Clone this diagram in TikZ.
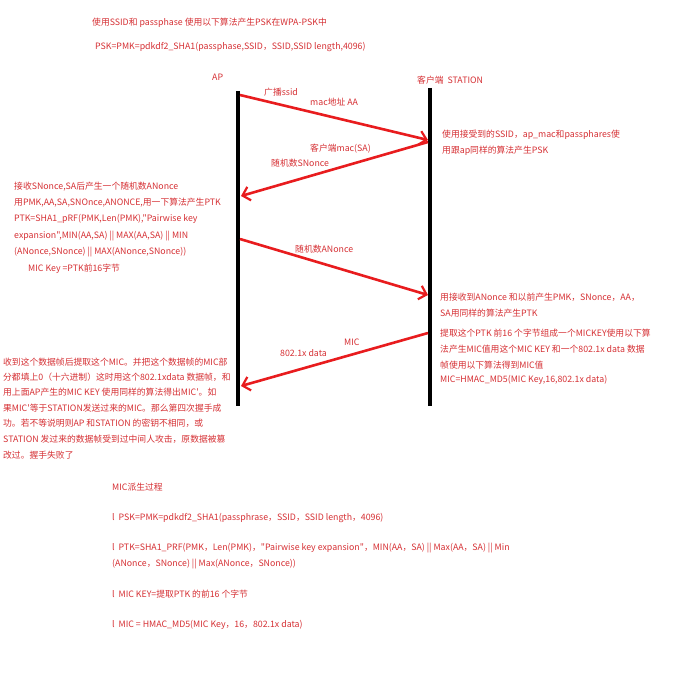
\documentclass[tikz,border=0pt]{standalone}
\usepackage{fontspec}
\newfontfamily\cjk{Noto Sans CJK SC}
\usetikzlibrary{arrows.meta}
\definecolor{txtred}{RGB}{214,48,52}
\definecolor{arrred}{RGB}{232,28,30}
\begin{document}
\begin{tikzpicture}[x=1pt,y=-1pt,
  txt/.style={text=txtred, font=\cjk\fontsize{8.8}{11}\selectfont, anchor=west, inner sep=0pt},
  life/.style={line width=4pt, black},
  msg/.style={arrred, line width=2.6pt, -{Straight Barb[length=7pt,width=14pt,line width=2.2pt]}}]
\useasboundingbox[fill=white] (0,0) rectangle (680,698);
% header
\node[txt] (h1) at (92,23) {使用SSID和 passphase 使用以下算法产生PSK在WPA-PSK中};
\node[txt] (h2) at (95,47) {PSK=PMK=pdkdf2\_SHA1(passphase,SSID，SSID,SSID length,4096)};
% actors
\node[txt] (ap) at (212,77) {AP};
\node[txt] (st) at (417,80) {客户端\ \ STATION};
% lifelines
\coordinate (apT) at (238,91);
\coordinate (apB) at (238,406);
\coordinate (stT) at (430,88);
\coordinate (stB) at (430,406);
\draw[life] (apT) -- (apB);
\draw[life] (stT) -- (stB);
% message points
\coordinate (m1s) at (240,95);
\coordinate (m1e) at (428,140);
\coordinate (m2s) at (428,142);
\coordinate (m2e) at (241,196);
\coordinate (m3s) at (240,239);
\coordinate (m3e) at (428,295);
\coordinate (m4s) at (428,333);
\coordinate (m4e) at (241,386);
\draw[msg] (m1s) -- (m1e);
\draw[msg] (m2s) -- (m2e);
\draw[msg] (m3s) -- (m3e);
\draw[msg] (m4s) -- (m4e);
% message labels
\node[txt] (l1a) at (264,92) {广播ssid};
\node[txt] (l1b) at (310,102) {mac地址 AA};
\node[txt] (l2a) at (310,149) {客户端mac(SA)};
\node[txt] (l2b) at (271,163) {随机数SNonce};
\node[txt] (l3a) at (295,249) {随机数ANonce};
\node[txt] (l4a) at (344,342) {MIC};
\node[txt] (l4b) at (280,353) {802.1x data};
% station notes
\node[txt] (s1) at (442,135) {使用接受到的SSID，ap\_mac和passphares使};
\node[txt] (s2) at (442,151) {用跟ap同样的算法产生PSK};
\node[txt] (s3) at (440,297) {用接收到ANonce 和以前产生PMK，SNonce，AA，};
\node[txt] (s4) at (440,313) {SA用同样的算法产生PTK};
\node[txt] (s5) at (440,333) {提取这个PTK 前16 个字节组成一个MICKEY使用以下算};
\node[txt] (s6) at (440,349) {法产生MIC值用这个MIC KEY 和一个802.1x data 数据};
\node[txt] (s7) at (440,365) {帧使用以下算法得到MIC值};
\node[txt] (s8) at (440,380) {MIC=HMAC\_MD5(MIC Key,16,802.1x data)};
% AP notes 1
\node[txt] (a1) at (14,187) {接收SNonce,SA后产生一个随机数ANonce};
\node[txt] (a2) at (14,203) {用PMK,AA,SA,SNOnce,ANONCE,用一下算法产生PTK};
\node[txt] (a3) at (14,219) {PTK=SHA1\_pRF(PMK,Len(PMK),"Pairwise key};
\node[txt] (a4) at (14,236) {expansion",MIN(AA,SA) || MAX(AA,SA) || MIN};
\node[txt] (a5) at (14,252) {(ANonce,SNonce) || MAX(ANonce,SNonce))};
\node[txt] (a6) at (28,269) {MIC Key =PTK前16字节};
% AP notes 2
\node[txt] (b1) at (3,362) {收到这个数据帧后提取这个MIC。并把这个数据帧的MIC部};
\node[txt] (b2) at (3,377) {分都填上0（十六进制）这时用这个802.1xdata 数据帧，和};
\node[txt] (b3) at (3,392) {用上面AP产生的MIC KEY 使用同样的算法得出MIC'。如};
\node[txt] (b4) at (3,408) {果MIC'等于STATION发送过来的MIC。那么第四次握手成};
\node[txt] (b5) at (3,423) {功。若不等说明则AP 和STATION 的密钥不相同，或};
\node[txt] (b6) at (3,439) {STATION 发过来的数据帧受到过中间人攻击，原数据被篡};
\node[txt] (b7) at (3,455) {改过。握手失败了};
% bottom
\node[txt] (c0) at (112,487) {MIC派生过程};
\node[txt] (c1) at (112,518) {l\ \ PSK=PMK=pdkdf2\_SHA1(passphrase，SSID，SSID length，4096)};
\node[txt] (c2) at (112,548) {l\ \ PTK=SHA1\_PRF(PMK，Len(PMK)，"Pairwise key expansion"，MIN(AA，SA) || Max(AA，SA) || Min};
\node[txt] (c3) at (112,564) {(ANonce，SNonce) || Max(ANonce，SNonce))};
\node[txt] (c4) at (112,594) {l\ \ MIC KEY=提取PTK 的前16 个字节};
\node[txt] (c5) at (112,625) {l\ \ MIC = HMAC\_MD5(MIC Key，16，802.1x data)};
\end{tikzpicture}
\end{document}
